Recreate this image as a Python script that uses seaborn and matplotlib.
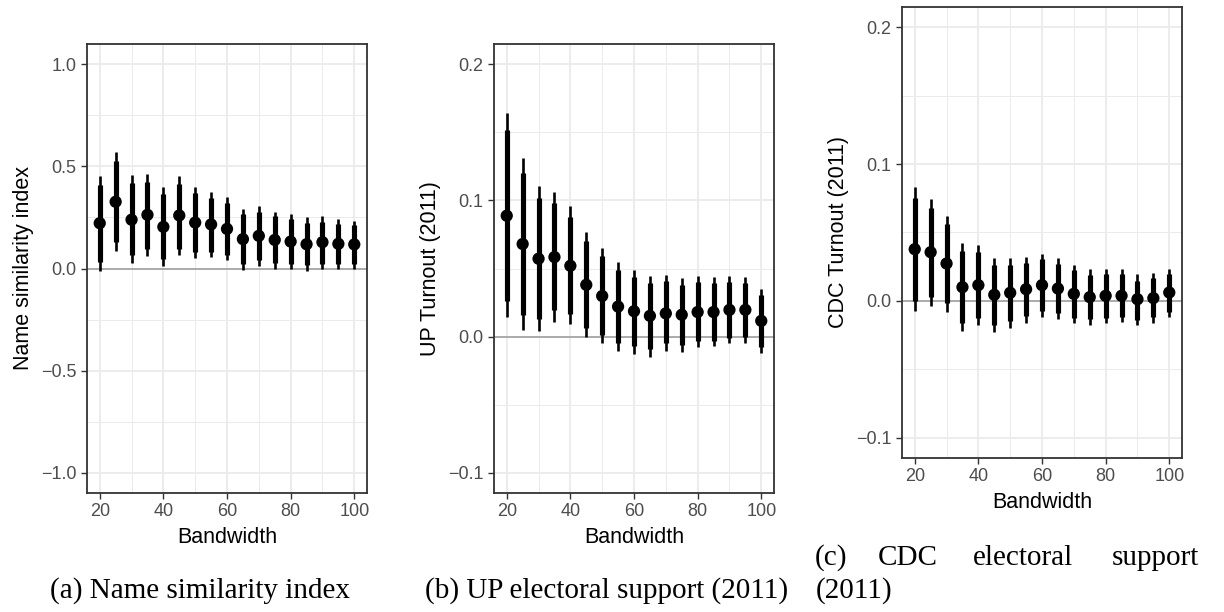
import matplotlib
matplotlib.use("Agg")
import matplotlib.pyplot as plt
import seaborn as sns
import pandas as pd

# bandwidths used in the RD estimates
bandwidth = [20, 25, 30, 35, 40, 45, 50, 55, 60, 65, 70, 75, 80, 85, 90, 95, 100]

# (a) name similarity index
a_est = [0.222, 0.327, 0.239, 0.263, 0.204, 0.260, 0.225, 0.216, 0.194, 0.144, 0.160, 0.140, 0.132, 0.119, 0.129, 0.121, 0.118]
a_hi95 = [0.451, 0.569, 0.458, 0.462, 0.400, 0.451, 0.400, 0.376, 0.348, 0.292, 0.306, 0.279, 0.268, 0.250, 0.255, 0.242, 0.234]
a_hi90 = [0.410, 0.525, 0.418, 0.426, 0.366, 0.415, 0.369, 0.346, 0.320, 0.268, 0.279, 0.255, 0.243, 0.225, 0.230, 0.219, 0.211]
a_lo90 = [0.030, 0.129, 0.064, 0.095, 0.046, 0.096, 0.082, 0.082, 0.067, 0.021, 0.041, 0.026, 0.023, 0.016, 0.023, 0.023, 0.023]
a_lo95 = [-0.010, 0.087, 0.026, 0.059, 0.010, 0.064, 0.051, 0.054, 0.041, -0.007, 0.013, 0.000, -0.003, -0.013, -0.003, -0.003, 0.000]

# (b) UP turnout 2011
b_est = [0.0888, 0.068, 0.0572, 0.0584, 0.052, 0.038, 0.0298, 0.022, 0.0186, 0.0152, 0.017, 0.016, 0.018, 0.018, 0.0196, 0.0196, 0.0115]
b_hi95 = [0.164, 0.131, 0.111, 0.106, 0.0956, 0.0765, 0.065, 0.0548, 0.049, 0.0447, 0.0455, 0.043, 0.0447, 0.0438, 0.0445, 0.044, 0.0348]
b_hi90 = [0.152, 0.1205, 0.1015, 0.098, 0.088, 0.070, 0.059, 0.049, 0.044, 0.0396, 0.0406, 0.038, 0.040, 0.039, 0.040, 0.039, 0.0308]
b_lo90 = [0.026, 0.0156, 0.013, 0.0196, 0.0166, 0.0064, 0.001, -0.005, -0.007, -0.009, -0.005, -0.006, -0.0034, -0.003, -0.001, -0.0005, -0.0078]
b_lo95 = [0.014, 0.0049, 0.0039, 0.011, 0.009, 0.0, -0.005, -0.0105, -0.0127, -0.0147, -0.011, -0.0115, -0.0078, -0.007, -0.005, -0.0044, -0.0122]

# (c) CDC turnout 2011
c_est = [0.0378, 0.0356, 0.0273, 0.010, 0.0115, 0.0044, 0.0059, 0.0085, 0.0115, 0.009, 0.0051, 0.0027, 0.0037, 0.0037, 0.0012, 0.002, 0.0061]
c_hi95 = [0.083, 0.0746, 0.062, 0.042, 0.041, 0.0317, 0.031, 0.0324, 0.0344, 0.031, 0.0259, 0.0232, 0.0232, 0.0232, 0.0193, 0.0202, 0.0232]
c_hi90 = [0.075, 0.068, 0.056, 0.0366, 0.0358, 0.0263, 0.0263, 0.0278, 0.0305, 0.0268, 0.0222, 0.019, 0.0193, 0.0193, 0.0146, 0.0166, 0.0195]
c_lo90 = [0.0, 0.003, -0.0017, -0.016, -0.0127, -0.0178, -0.0146, -0.011, -0.0073, -0.0088, -0.0122, -0.0134, -0.0124, -0.0115, -0.0139, -0.012, -0.0085]
c_lo95 = [-0.0076, -0.0037, -0.008, -0.0224, -0.018, -0.023, -0.02, -0.0159, -0.0115, -0.013, -0.0163, -0.0178, -0.0163, -0.0156, -0.018, -0.0159, -0.012]

ylabels = ["Name similarity index", "UP Turnout (2011)", "CDC Turnout (2011)"]

sns.set_theme(style="white")
plt.rcParams["font.family"] = ["Liberation Sans", "DejaVu Sans"]

fig = plt.figure(figsize=(12.24, 6.12), dpi=100)

# axes positions in figure fractions (ggplot panels of unequal height)
boxes = [
    [87 / 1224, 1 - 493 / 612, 280 / 1224, 449 / 612],
    [494 / 1224, 1 - 493 / 612, 280 / 1224, 449 / 612],
    [902 / 1224, 1 - 458 / 612, 280 / 1224, 451 / 612],
]

panels = [
    (a_est, a_lo95, a_hi95, a_lo90, a_hi90),
    (b_est, b_lo95, b_hi95, b_lo90, b_hi90),
    (c_est, c_lo95, c_hi95, c_lo90, c_hi90),
]

for i, (est, lo95, hi95, lo90, hi90) in enumerate(panels):
    ax = fig.add_axes(boxes[i])
    df = pd.DataFrame({"bw": bandwidth, "est": est, "lo95": lo95, "hi95": hi95,
                       "lo90": lo90, "hi90": hi90})

    if i == 0:
        ax.set_ylim(-1.1, 1.1)
        ax.set_yticks([-1, -0.5, 0, 0.5, 1])
        ax.set_yticks([-0.75, -0.25, 0.25, 0.75], minor=True)
    else:
        ax.set_ylim(-0.115, 0.215)
        ax.set_yticks([-0.1, 0, 0.1, 0.2])
        ax.set_yticks([-0.05, 0.05, 0.15], minor=True)
    ax.set_xlim(16, 104)
    ax.set_xticks([20, 40, 60, 80, 100])
    ax.set_xticks([30, 50, 70, 90], minor=True)

    ax.grid(which="major", color="#EBEBEB", lw=1.3, zorder=0)
    ax.grid(which="minor", color="#EBEBEB", lw=0.7, zorder=0)
    ax.set_axisbelow(True)

    ax.axhline(0, color="#A0A0A0", lw=1.2, zorder=1)
    ax.vlines(df["bw"], df["lo95"], df["hi95"], color="black", lw=1.9, zorder=2)
    ax.vlines(df["bw"], df["lo90"], df["hi90"], color="black", lw=3.7, zorder=3)
    sns.scatterplot(data=df, x="bw", y="est", ax=ax, color="black", s=78,
                    edgecolor="none", zorder=4, legend=False)

    for sp in ax.spines.values():
        sp.set_color("#333333")
        sp.set_linewidth(1.3)
    ax.tick_params(which="major", direction="out", length=4.5, width=1.0,
                   color="#333333", labelcolor="#4D4D4D", labelsize=13,
                   bottom=True, left=True, pad=3)
    ax.tick_params(which="minor", length=0)
    ax.set_xlabel("Bandwidth", fontsize=15.5, color="black", labelpad=5)
    ax.set_ylabel(ylabels[i], fontsize=15.5, color="black", labelpad=5)

# subfigure captions
cap = dict(family=["Liberation Serif", "DejaVu Serif"], fontsize=21, color="black")
fig.text(200 / 1224, 1 - 598 / 612, "(a) Name similarity index", ha="center", va="baseline", **cap)
fig.text(607 / 1224, 1 - 598 / 612, "(b) UP electoral support (2011)", ha="center", va="baseline", **cap)
for word, x in zip(["(c)", "CDC", "electoral", "support"], [815, 878, 973, 1112]):
    fig.text(x / 1224, 1 - 565 / 612, word, ha="left", va="baseline", **cap)
fig.text(816 / 1224, 1 - 598 / 612, "(2011)", ha="left", va="baseline", **cap)

fig.savefig("out.png", dpi=100)
